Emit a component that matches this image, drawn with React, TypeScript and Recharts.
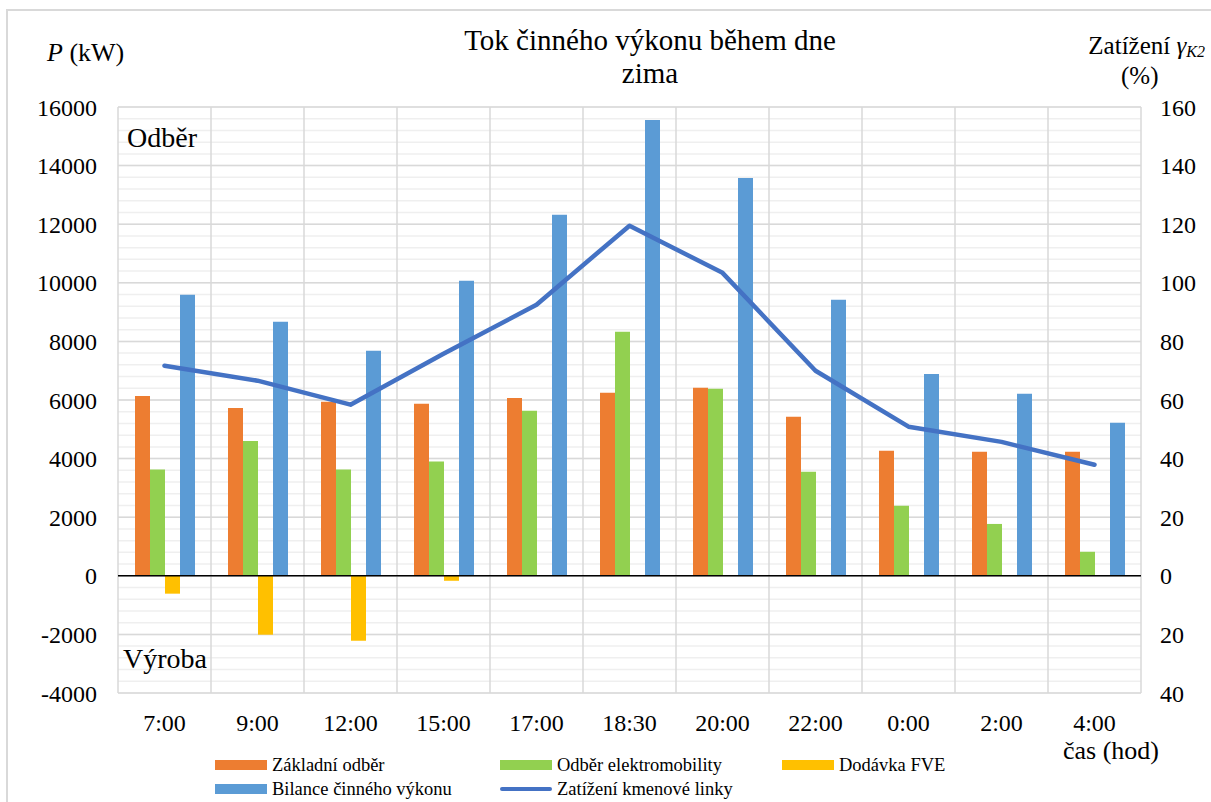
import React from 'react';
import { ComposedChart, Bar, Line, XAxis, YAxis, CartesianGrid, ReferenceLine } from 'recharts';

// casy mereni
const casy = ['7:00', '9:00', '12:00', '15:00', '17:00', '18:30', '20:00', '22:00', '0:00', '2:00', '4:00'];

// vykony v kW
const zakladniOdber = [6140, 5730, 5940, 5870, 6070, 6250, 6420, 5430, 4270, 4230, 4230];
const odberElektromobility = [3630, 4600, 3630, 3900, 5630, 8330, 6380, 3550, 2390, 1770, 820];
const dodavkaFVE = [-610, -2010, -2220, -170, 0, 0, 0, 0, 0, 0, 0];
const bilance = [9590, 8670, 7680, 10070, 12320, 15560, 13580, 9420, 6890, 6210, 5220];

// zatizeni kmenove linky v %
const zatizeni = [71.7, 66.6, 58.4, 75.8, 92.5, 119.5, 103.4, 70, 50.9, 45.7, 37.9];

const leftTicks = [-4000, -2000, 0, 2000, 4000, 6000, 8000, 10000, 12000, 14000, 16000];
const rightTicks = [-40, -20, 0, 20, 40, 60, 80, 100, 120, 140, 160];
const minorTicks = Array.from({ length: 51 }, (_, i) => -4000 + i * 400);

const font = 'Liberation Serif, DejaVu Serif, serif';

const barvy = {
  zakladni: '#ED7D31',
  elektro: '#92D050',
  fve: '#FFC000',
  bilance: '#5B9BD5',
  linka: '#4472C4',
};

const data = casy.map((cas, i) => ({
  cas,
  zakladni: zakladniOdber[i],
  elektro: odberElektromobility[i],
  fve: dodavkaFVE[i],
  bilance: bilance[i],
  zatizeni: zatizeni[i],
}));

const legenda = [
  { name: 'Základní odběr', color: barvy.zakladni, line: false, x: 215, y: 765 },
  { name: 'Odběr elektromobility', color: barvy.elektro, line: false, x: 500, y: 765 },
  { name: 'Dodávka FVE', color: barvy.fve, line: false, x: 782, y: 765 },
  { name: 'Bilance činného výkonu', color: barvy.bilance, line: false, x: 215, y: 789 },
  { name: 'Zatížení kmenové linky', color: barvy.linka, line: true, x: 500, y: 789 },
];

const yFromScale = (yAxis: any, offset: any, v: number) => {
  if (yAxis && typeof yAxis.scale === 'function') return yAxis.scale(v);
  return offset.top + ((16000 - v) / 20000) * offset.height;
};

const minorGen = ({ yAxis, offset }: any) => minorTicks.map((v) => yFromScale(yAxis, offset, v));
const majorGen = ({ yAxis, offset }: any) => leftTicks.map((v) => yFromScale(yAxis, offset, v));
const verticalGen = ({ offset }: any) =>
  Array.from({ length: casy.length + 1 }, (_, i) => offset.left + (i * offset.width) / casy.length);

const abs = (v: number) => String(Math.abs(v));

const tickStyle = { fill: '#000', fontSize: 24, fontFamily: font };

const App = () => {
  return (
    <div style={{ position: 'absolute', left: 0, top: 0, width: 1211, height: 802, overflow: 'hidden', background: '#fff', fontFamily: font, color: '#000' }}>
      <div style={{ position: 'absolute', left: 6, top: 9, width: 1300, height: 900, border: '2px solid #d9d9d9' }} />
      <ComposedChart
        width={1211}
        height={802}
        data={data}
        margin={{ top: 107, right: 0, bottom: 69, left: 0 }}
        barGap={0}
        barSize={15}
        style={{ position: 'absolute', left: 0, top: 0, fontFamily: font }}
      >
        <CartesianGrid horizontalCoordinatesGenerator={minorGen} vertical={false} stroke="#efefef" strokeWidth={1.5} />
        <CartesianGrid horizontalCoordinatesGenerator={majorGen} verticalCoordinatesGenerator={verticalGen} stroke="#d9d9d9" strokeWidth={1.5} />
        <XAxis
          dataKey="cas"
          axisLine={false}
          tickLine={false}
          tickSize={0}
          tickMargin={21}
          height={40}
          interval={0}
          tick={tickStyle}
        />
        <YAxis
          domain={[-4000, 16000]}
          ticks={leftTicks}
          width={118}
          axisLine={false}
          tickLine={false}
          tickSize={0}
          tickMargin={21}
          interval={0}
          tick={tickStyle}
        />
        <YAxis
          yAxisId="right"
          orientation="right"
          domain={[-40, 160]}
          ticks={rightTicks}
          tickFormatter={abs}
          width={70}
          axisLine={false}
          tickLine={false}
          tickSize={0}
          tickMargin={19}
          interval={0}
          tick={tickStyle}
        />
        <Bar dataKey="zakladni" name="Základní odběr" fill={barvy.zakladni} isAnimationActive={false} />
        <Bar dataKey="elektro" name="Odběr elektromobility" fill={barvy.elektro} isAnimationActive={false} />
        <Bar dataKey="fve" name="Dodávka FVE" fill={barvy.fve} isAnimationActive={false} />
        <Bar dataKey="bilance" name="Bilance činného výkonu" fill={barvy.bilance} isAnimationActive={false} />
        <ReferenceLine y={0} stroke="#000" strokeWidth={1.5} />
        <Line
          yAxisId="right"
          dataKey="zatizeni"
          name="Zatížení kmenové linky"
          stroke={barvy.linka}
          strokeWidth={4.5}
          strokeLinecap="round"
          strokeLinejoin="round"
          dot={false}
          activeDot={false}
          isAnimationActive={false}
        />
      </ComposedChart>

      <div style={{ position: 'absolute', left: 350, width: 600, top: 24, textAlign: 'center', fontSize: 29, lineHeight: '33px' }}>
        Tok činného výkonu během dne
        <br />
        zima
      </div>
      <div style={{ position: 'absolute', left: 47, top: 38, fontSize: 26 }}>
        <i>P</i> (kW)
      </div>
      <div style={{ position: 'absolute', left: 1040, width: 165, top: 30, textAlign: 'right', fontSize: 25, lineHeight: '32px' }}>
        Zatížení <i>γ</i><sub style={{ fontSize: 16, fontStyle: 'italic', verticalAlign: -3 }}>K2</sub>
      </div>
      <div style={{ position: 'absolute', left: 1121, top: 62, fontSize: 25 }}>(%)</div>
      <div style={{ position: 'absolute', left: 127, top: 122, fontSize: 28 }}>Odběr</div>
      <div style={{ position: 'absolute', left: 123, top: 643, fontSize: 28 }}>Výroba</div>
      <div style={{ position: 'absolute', left: 1063, top: 736, fontSize: 26 }}>čas (hod)</div>

      {legenda.map((l) => (
        <div key={l.name} style={{ position: 'absolute', left: l.x, top: l.y - 12, height: 24, display: 'flex', alignItems: 'center', fontSize: 18.5, whiteSpace: 'nowrap' }}>
          <span
            style={{
              display: 'inline-block',
              width: 52,
              height: l.line ? 4 : 10,
              borderRadius: l.line ? 2 : 0,
              background: l.color,
              marginRight: 5,
            }}
          />
          {l.name}
        </div>
      ))}
    </div>
  );
};

export default App;
